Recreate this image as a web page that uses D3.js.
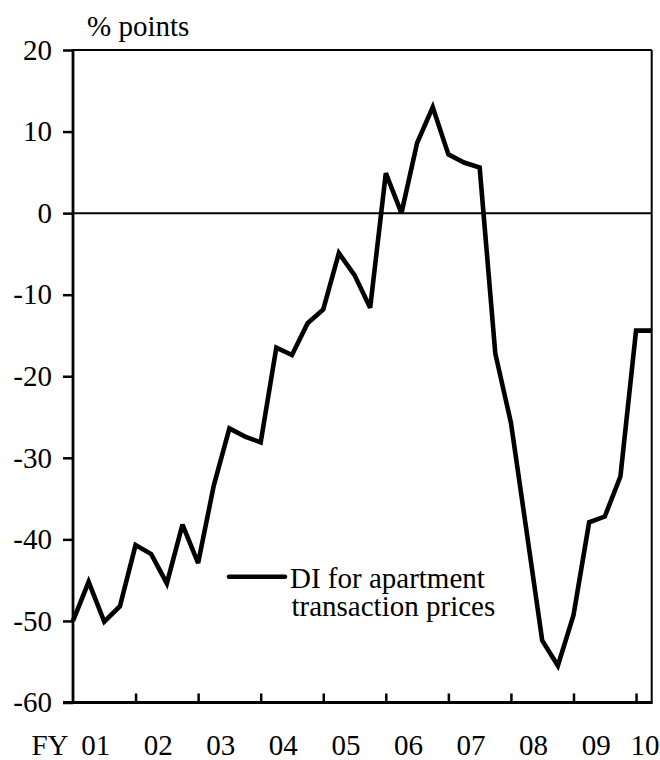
<!DOCTYPE html>
<html>
<head>
<meta charset="utf-8">
<script src="https://cdn.jsdelivr.net/npm/d3@7"></script>
<style>
  html, body { margin: 0; padding: 0; background: #fff; }
  svg { display: block; }
  text { font-family: "Liberation Serif", "Times New Roman", Times, serif; fill: #000; }
</style>
</head>
<body>
<script>
// ---- data (quarterly, FY2001 Q1 .. FY2010 Q2) ----
const yearLabels = ["01","02","03","04","05","06","07","08","09","10"];
const diValues = [
  -50.0, -45.2, -50.1, -48.2,   // FY01
  -40.7, -41.8, -45.4, -38.2,   // FY02
  -42.9, -33.4, -26.4, -27.4,   // FY03
  -28.1, -16.5, -17.4, -13.5,   // FY04
  -11.8,  -4.9,  -7.6, -11.6,   // FY05
    4.9,   0.0,   8.6,  13.0,   // FY06
    7.2,   6.2,   5.6, -17.2,   // FY07
  -25.7, -39.0, -52.4, -55.5,   // FY08
  -49.3, -37.9, -37.2, -32.3,   // FY09
  -14.4, -14.4                  // FY10
];
const yTicks = [-60, -50, -40, -30, -20, -10, 0, 10, 20];
const unitLabel = "% points";
const fyPrefix = "FY";
const legendLines = ["DI for apartment", "transaction prices"];

// ---- layout ----
const W = 660, H = 760;
const pL = 73, pR = 651.7, pT = 50, pB = 702.5;
const FONT = '"Liberation Serif", "Times New Roman", Times, serif';
const FS = 29;

const svg = d3.select("body").append("svg").attr("width", W).attr("height", H);

const x = d3.scaleLinear().domain([0, diValues.length - 1]).range([pL, pR]);
const y = d3.scaleLinear().domain([-60, 20]).range([pB, pT]);

// top border & right border
svg.append("line").attr("x1", pL).attr("x2", pR).attr("y1", pT).attr("y2", pT)
  .attr("stroke", "#000").attr("stroke-width", 2);
svg.append("line").attr("x1", pR).attr("x2", pR).attr("y1", pT).attr("y2", pB)
  .attr("stroke", "#000").attr("stroke-width", 2);

// zero line
svg.append("line").attr("x1", pL).attr("x2", pR).attr("y1", y(0)).attr("y2", y(0))
  .attr("stroke", "#000").attr("stroke-width", 2);

// y axis
const yAxis = d3.axisLeft(y).tickValues(yTicks).tickSize(10).tickPadding(11).tickFormat(d => String(d));
const gy = svg.append("g").attr("transform", `translate(${pL},0)`).call(yAxis)
  .attr("font-family", FONT).attr("font-size", FS);
gy.select(".domain").remove();
gy.selectAll(".tick line").attr("stroke", "#000").attr("stroke-width", 2.5);
gy.selectAll(".tick text").attr("fill", "#000");
svg.append("line").attr("x1", pL).attr("x2", pL).attr("y1", pT - 1).attr("y2", pB + 1.5)
  .attr("stroke", "#000").attr("stroke-width", 2.8);

// x axis: ticks at fiscal year boundaries, pointing inward
const yearStarts = d3.range(4, diValues.length, 4);
const xAxis = d3.axisBottom(x).tickValues(yearStarts).tickSize(-9).tickFormat("");
const gx = svg.append("g").attr("transform", `translate(0,${pB})`).call(xAxis);
gx.select(".domain").remove();
gx.selectAll(".tick line").attr("stroke", "#000").attr("stroke-width", 2.5);
svg.append("line").attr("x1", pL - 10).attr("x2", pR + 1).attr("y1", pB).attr("y2", pB)
  .attr("stroke", "#000").attr("stroke-width", 2.8);

// year labels
svg.append("g").attr("font-family", FONT).selectAll("text").data(yearLabels).join("text")
  .attr("x", (d, i) => Math.min(x(i * 4 + 1.45), 645))
  .attr("y", 755)
  .attr("text-anchor", "middle")
  .attr("font-size", FS)
  .text(d => d);
svg.append("text").attr("x", 68.5).attr("y", 755).attr("text-anchor", "end")
  .attr("font-family", FONT).attr("font-size", FS).text(fyPrefix);

// unit label
svg.append("text").attr("x", 87).attr("y", 36).attr("font-family", FONT)
  .attr("font-size", FS).text(unitLabel);

// data line
const line = d3.line().x((d, i) => x(i)).y(d => y(d));
svg.append("path").datum(diValues).attr("d", line)
  .attr("fill", "none").attr("stroke", "#000").attr("stroke-width", 4.6)
  .attr("stroke-linejoin", "miter").attr("stroke-miterlimit", 3);

// legend
svg.append("line").attr("x1", 229).attr("x2", 285).attr("y1", 576.7).attr("y2", 576.7)
  .attr("stroke", "#000").attr("stroke-width", 4.6).attr("stroke-linecap", "round");
svg.append("g").attr("font-family", FONT).selectAll("text").data(legendLines).join("text")
  .attr("x", (d, i) => i === 0 ? 290 : 291.5)
  .attr("y", (d, i) => 588 + i * 27.5)
  .attr("font-size", FS)
  .text(d => d);
</script>
</body>
</html>
